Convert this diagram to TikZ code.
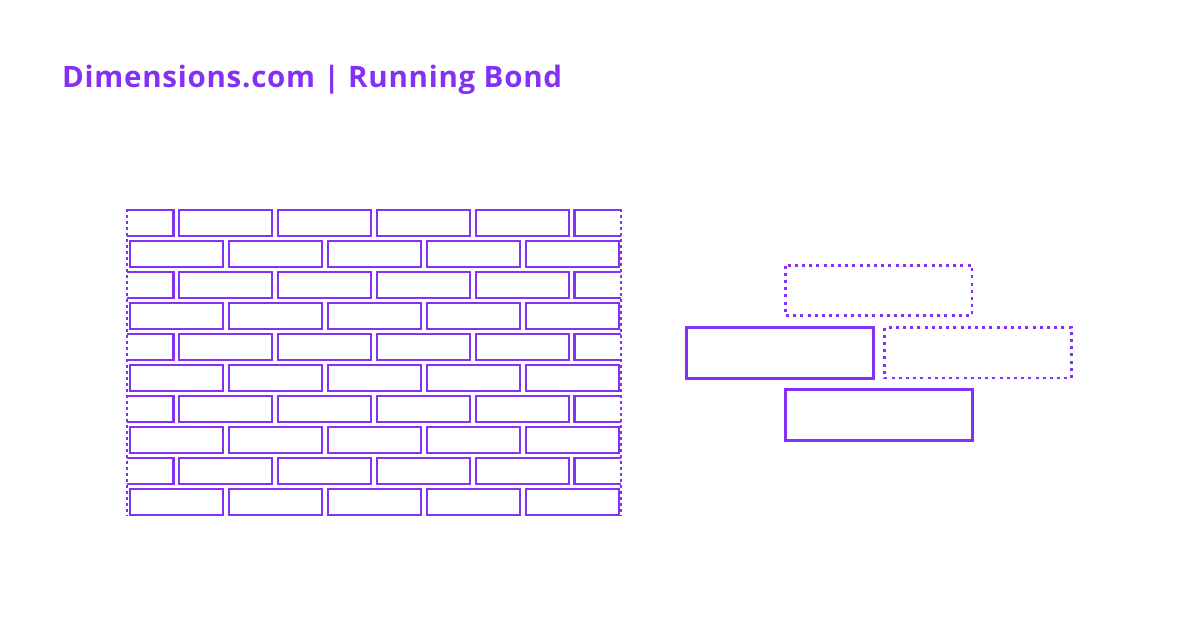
\documentclass[tikz,border=0pt]{standalone}
\usepackage{fontspec}
\setmainfont{Open Sans}
\definecolor{brand}{RGB}{133,48,245}
\begin{document}
\begin{tikzpicture}[x=1pt,y=-1pt,
  brick/.style={draw=brand,line width=2.8pt},
  bigbrick/.style={draw=brand,line width=3pt},
  dotbrick/.style={draw=brand,line width=2.8pt,dash pattern=on 3pt off 4.2pt},
  edgeline/.style={draw=brand,line width=2.8pt,dash pattern=on 3.5pt off 2.5pt}]
\useasboundingbox (0,0) rectangle (1200,630);
\node[anchor=base west,inner sep=0pt,text=brand,font=\bfseries\fontsize{29.5}{34}\selectfont\addfontfeature{LetterSpace=2.5}] (title) at (62,87.5) {Dimensions.com | Running Bond};
% wall
\foreach \i in {0,...,4}{
  \pgfmathsetmacro{\ya}{210+62*\i}
  \pgfmathsetmacro{\yb}{\ya+26}
  \pgfmathsetmacro{\yc}{\ya+31}
  \pgfmathsetmacro{\yd}{\yc+26}
  % odd row
  \draw[brick] (127,\ya) -- (173.5,\ya) -- (173.5,\yb) -- (127,\yb);
  \foreach \k in {0,...,3}{
    \draw[brick] ({179+99*\k},\ya) rectangle ({272+99*\k},\yb);
  }
  \draw[brick] (621,\ya) -- (574.5,\ya) -- (574.5,\yb) -- (621,\yb);
  % even row
  \foreach \k in {0,...,4}{
    \draw[brick] ({130+99*\k},\yc) rectangle ({223+99*\k},\yd);
  }
}
\draw[edgeline] (127,208.5) coordinate (lt) -- (127,516) coordinate (lb);
\draw[edgeline] (621,208.5) coordinate (rt) -- (621,516) coordinate (rb);
% right detail
\draw[dotbrick] (785.5,265.5) rectangle (972,315.5);
\draw[bigbrick] (686.5,327.5) rectangle (873,378);
\draw[dotbrick] (884.5,327.5) rectangle (1071.5,378);
\draw[bigbrick] (785.5,389) rectangle (972,440);
\end{tikzpicture}
\end{document}
